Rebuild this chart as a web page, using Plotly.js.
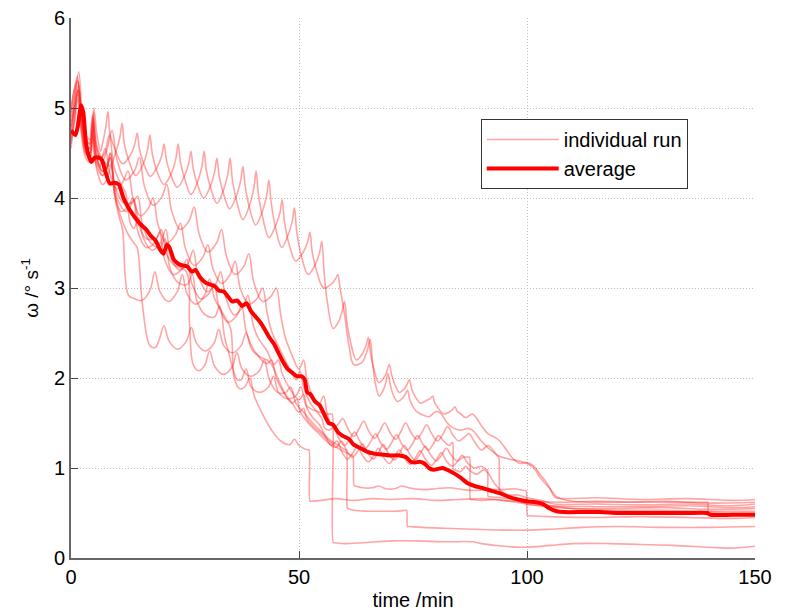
<!DOCTYPE html>
<html>
<head>
<meta charset="utf-8">
<script src="https://cdn.plot.ly/plotly-3.0.1.min.js"></script>
<style>html,body{margin:0;padding:0;background:#fff;}#chart{width:786px;height:612px;}</style>
</head>
<body>
<div id="chart"></div>
<script>
// ---- data: [time (min), omega (deg/s)] ----
const run1 = [[0,4.9],[0.8,5.15],[1.5,5.3],[2.3,4.95],[3.2,4.7],[4.4,4.65],[5,5.0],[5.7,4.7],[6.5,4.52],
[6.9,4.6],[7.6,4.78],[8.1,4.96],[8.6,4.7],[9.6,4.55],[11.3,4.38],
[13.05,4.48],[14,4.6],[14.5,4.72],[15,4.55],[15.95,4.38],[17.4,4.24],
[18.95,4.35],[19.9,4.47],[20.4,4.6],[20.9,4.43],[21.85,4.26],[23.3,4.12],
[24.85,4.24],[25.8,4.38],[26.3,4.52],[26.8,4.33],[27.75,4.15],[29.1,4.0],
[30.55,4.13],[31.5,4.29],[32,4.44],[32.5,4.24],[33.45,4.05],[34.8,3.88],
[36.25,4.02],[37.2,4.19],[37.7,4.35],[38.2,4.13],[39.15,3.89],[40.5,3.7],
[41.95,3.85],[42.9,4.03],[43.4,4.2],[43.9,3.95],[44.85,3.67],[46.2,3.45],
[47.55,3.58],[48.5,3.74],[49,3.89],[49.5,3.63],[50.45,3.37],[52,3.15],
[53.55,3.26],[54.5,3.39],[55,3.52],[55.5,3.18],[56.2,2.85],[57.5,2.55],
[58.8,2.64],[59.5,2.75],[60,2.85],[60.5,2.62],[61.3,2.4],[62.6,2.2],
[64,2.28],[64.7,2.36],[65.2,2.45],[65.7,2.27],[66.4,2.1],[67.5,1.95],
[68.7,2.01],[69.3,2.08],[69.8,2.15],[70.3,2.04],[71,1.93],[72,1.84],
[73.1,1.88],[73.7,1.93],[74.2,1.98],[74.7,1.88],[75.4,1.8],[76.7,1.72],
[77.9,1.75],[78.8,1.77],[79.3,1.8],[79.8,1.72],[80.6,1.66],[81.7,1.6],
[82.9,1.62],[83.7,1.65],[84.2,1.68],[84.7,1.63],[85.5,1.6],[86.5,1.56],
[88,1.6],[89,1.55],[90,1.47],[91.5,1.38],[93,1.34],[94,1.3],[95.5,1.2],[97,1.1],[98.5,1.05],[100,1.06],[101.5,1.02],
[103,0.92],[104,0.86],[105,0.78],[106,0.68],[108,0.66],[115,0.67],[125,0.65],[135,0.66],[145,0.64],[150,0.65]];

const run2 = [[0,4.7],[0.8,5.1],[1.7,5.4],[2.5,4.9],[3.4,4.65],[4.2,4.6],[4.9,4.95],[5.6,4.6],[7,4.42],[8.6,4.36],
[9.75,4.5],[10.7,4.67],[11.2,4.83],[11.7,4.6],[12.65,4.42],[14.2,4.25],
[15.85,4.38],[16.8,4.54],[17.3,4.70],[17.8,4.5],[18.75,4.31],[20.4,4.15],
[22.05,4.28],[23,4.44],[23.5,4.6],[24,4.4],[24.95,4.21],[26.3,4.04],
[27.75,4.18],[28.7,4.35],[29.2,4.52],[29.7,4.3],[30.65,4.11],[32,3.94],
[33.45,4.09],[34.4,4.27],[34.9,4.44],[35.4,4.2],[36.35,3.96],[37.7,3.76],
[39.15,3.92],[40.1,4.11],[40.6,4.3],[41.1,4.04],[42.05,3.78],[43.4,3.56],
[44.85,3.69],[45.8,3.83],[46.3,3.98],[46.8,3.74],[47.75,3.5],[49.3,3.3],
[50.95,3.4],[51.9,3.51],[52.4,3.62],[52.9,3.4],[53.85,3.19],[55.4,3.0],
[57.05,3.04],[58,3.1],[58.5,3.15],[59,3.0],[60,2.7],[61,2.35],[62,2.15],[63.8,2.17],
[64.6,2.25],[65.1,2.33],[65.6,2.43],[66.1,2.2],[66.7,1.95],[67.6,1.8],
[68.6,1.88],[69.1,1.96],[69.5,2.05],[70,1.93],[70.6,1.82],[71.6,1.74],
[72.8,1.78],[73.3,1.82],[73.8,1.86],[74.3,1.76],[75,1.68],[76,1.62],
[78.5,1.57],[79.3,1.6],[80.3,1.63],[81.2,1.6],[82.5,1.5],[84,1.44],[85.5,1.42],[87,1.44],[88,1.42],[90,1.3],[92,1.2],
[94,1.13],[96,1.1],[98,1.08],[100,1.05],[101.5,1.0],[102.8,0.9],[104.5,0.8],[105.5,0.74],[106.5,0.68],[110,0.63],
[120,0.62],[130,0.63],[140,0.61],[150,0.62]];

const run3 = [[0,4.85],[0.8,5.05],[1.6,5.25],[2.4,4.85],[3.3,4.6],[4.2,4.55],[4.9,4.9],[5.6,4.55],[6.8,4.4],
[7.9,4.54],[9,4.75],[10.1,4.42],[12,4.2],[13.9,4.3],[15,4.45],[16.1,4.13],[18,3.92],[19.9,4.01],[21,4.15],[22.1,3.85],
[24,3.65],[25.9,3.75],[27,3.9],[28.1,3.6],[30,3.4],[31.9,3.5],[33,3.65],[34.1,3.35],[36,3.15],[37.9,3.24],[39,3.38],
[40.1,3.06],[42,2.85],[43.9,2.91],[45,3.0],[46,2.7],[47,2.45],[48.5,2.25],[50,2.1],[51,2.2],[51.7,2.0],[53,1.8],
[54.5,1.72],[55.4,1.8],[56.2,1.6],[57.5,1.45],
[58.5,1.48],[59.6,1.55],[60.7,1.44],[62,1.35],[63.1,1.43],[64.2,1.52],[65.3,1.41],[66.6,1.33],[67.7,1.41],[68.8,1.5],
[69.9,1.4],[71.2,1.32],[72.3,1.4],[73.4,1.5],[74.5,1.4],[75.8,1.32],[76.9,1.39],[78,1.48],[79.1,1.38],[80.4,1.3],
[81.5,1.37],[82.6,1.46],[83.7,1.37],[85,1.3],[86.2,1.34],[87.3,1.38],[88.4,1.3],[90,1.2],[91.5,1.25],[92.5,1.2],
[93.6,1.13],[93.8,1.12],[94.1,0.72],[94.3,0.72],[96,0.7],[98,0.7],[100,0.67],[103,0.64],[106,0.6],[115,0.6],
[125,0.59],[135,0.6],[145,0.58],[150,0.6]];

const run4 = [[0,4.6],[0.8,4.95],[1.5,5.2],[2.3,4.8],[3.2,4.5],[4.1,4.45],[4.8,4.8],[5.5,4.4],[6.4,4.35],
[6.6,4.4],[7.5,4.55],[8.5,4.28],[10,4.1],[11.4,4.18],[12.5,4.3],[13.6,4.0],[15.2,3.8],[16.9,3.88],[18,4.0],[19.1,3.7],
[21,3.5],[22.9,3.59],[24,3.72],[25.1,3.44],[27,3.25],[28.9,3.34],[30,3.48],[31.1,3.22],[33,3.05],[34.9,3.15],[36,3.3],
[37.1,3.0],[39,2.82],[40.9,2.89],[42,3.0],[43.1,2.7],[44,2.52],[46,2.3],[48,2.1],[49.5,1.98],[50.2,2.08],[51,1.9],
[52.5,1.72],[54,1.62],[55,1.55],[55.6,1.45],
[56.5,1.42],[57.6,1.45],[58.7,1.33],[60,1.25],[61.1,1.32],[62.2,1.4],[63.3,1.3],[64.6,1.22],[65.7,1.29],[66.8,1.38],
[67.9,1.28],[69.2,1.21],[70.3,1.28],[71.4,1.37],[72.5,1.27],[73.8,1.2],[74.9,1.27],[76,1.36],[77.1,1.27],[78.4,1.2],
[79.5,1.27],[80.6,1.36],[81.7,1.3],[83,1.25],[83.5,1.28],[83.7,1.28],[83.9,0.98],[84.1,0.98],[85.5,0.96],[86.5,1.02],
[87.5,0.97],[89,0.93],[90.5,0.98],[91.5,0.94],[93,0.82],[95,0.72],[97,0.66],[100,0.6],[105,0.58],[115,0.57],
[125,0.57],[135,0.58],[145,0.56],[150,0.57]];

const run5 = [[0,5.0],[0.7,5.2],[1.4,5.35],[2.2,5.0],[3.1,4.7],[4,4.6],[4.7,4.92],[5.4,4.6],[6.5,4.45],
[7.4,4.5],[8.4,4.7],[9.4,4.35],[10.5,4.2],[12,4.05],[13,3.72],[13.8,3.66],[14.8,3.78],[15.9,3.55],[17.8,3.42],
[19.7,3.51],[20.8,3.65],[21.9,3.34],[23.8,3.2],[25.7,3.28],[26.8,3.42],[27.9,3.14],[29.8,2.96],[31.7,3.04],[32.8,3.18],
[33.9,2.9],[35.8,2.7],[37.7,2.79],[38.8,2.92],[39.9,2.6],[41,2.45],[43,2.3],[44.5,2.15],[45.5,2.2],[46.3,2.05],
[48,1.88],[50,1.76],[51,1.82],[51.8,1.66],[53,1.56],[54.5,1.48],[55.5,1.38],[57,1.25],
[58.2,1.23],[59.3,1.3],[60.4,1.2],[61.7,1.12],[62.8,1.18],[63.9,1.27],[65,1.17],[66.3,1.1],[67.4,1.17],[68.5,1.26],
[69.6,1.16],[70.9,1.09],[72,1.16],[73.1,1.25],[74.2,1.16],[75.5,1.09],[76.6,1.16],[77.7,1.24],[78.8,1.15],[80.1,1.08],
[81.2,1.14],[82.3,1.22],[83.4,1.14],[84.7,1.08],[86,1.12],[87.2,1.12],[87.4,1.12],[87.6,0.65],[87.8,0.65],[90,0.64],
[93,0.65],[96,0.63],[100,0.6],[104,0.57],[110,0.55],[120,0.55],[130,0.56],[140,0.54],[150,0.55]];

const run6 = [[0,4.8],[0.8,5.0],[1.6,5.2],[2.4,4.8],[3.3,4.55],[4.2,4.5],[4.9,4.82],[5.6,4.45],[7,4.25],[7.7,4.3],
[8.6,4.45],[9.5,4.05],[10.5,3.8],[11.3,3.65],[12.6,2.92],[14,2.88],[15.5,2.86],[17.3,2.97],[18.4,3.18],[19.5,2.96],
[21.4,2.85],[23.3,2.96],[24.4,3.15],[25.5,2.93],[27.4,2.82],[29.3,2.92],[30.4,3.1],[31.5,2.88],[32.8,2.76],[33.5,2.7],
[35,2.55],[35.8,2.0],[37,1.88],[38.1,1.9],[39.2,2.0],[40.2,1.8],[42,1.6],[44,1.42],[46,1.3],[48,1.26],[49,1.32],
[50,1.25],[52,1.2],[52.2,1.2],[52.4,0.63],[52.6,0.63],[55,0.64],[58,0.66],[62,0.64],[66,0.66],[70,0.65],[75,0.66],
[80,0.64],[85,0.65],[90,0.66],[95,0.64],[100,0.62],[105,0.58],[110,0.55],[120,0.53],[130,0.53],[140,0.52],[150,0.52]];

const run7 = [[0,4.65],[0.8,4.85],[1.5,5.1],[2.3,4.7],[3.2,4.45],[4.1,4.4],[4.8,4.7],[5.5,4.35],[6.9,4.15],[7.8,4.2],
[8.8,4.35],[9.8,3.98],[11,3.78],[12.5,3.6],[13.8,3.5],[14.5,3.45],[15.5,2.9],[16.5,2.5],[17.3,2.36],[18.5,2.34],
[19.3,2.42],[20.4,2.58],[21.5,2.41],[23.4,2.32],[25.3,2.41],[26.4,2.56],[27.5,2.39],[29.4,2.3],[31.3,2.38],[32.4,2.54],
[33.5,2.36],[35.4,2.28],[37.3,2.36],[38.4,2.5],[39.5,2.33],[40.5,2.27],[42,2.22],[43,2.2],[44,2.15],[45.5,1.98],
[47,1.82],[48.5,1.72],[50,1.62],[51,1.66],[51.7,1.55],[53,1.47],[55,1.38],[57,1.28],[58.5,1.22],[60,1.18],[61.6,1.14],
[61.8,1.14],[62.1,0.8],[62.3,0.8],[64,0.78],[66,0.78],[67.5,0.8],[69,0.77],[71,0.77],[72.5,0.8],[74,0.78],[77,0.76],
[80,0.77],[83,0.78],[86,0.76],[89,0.75],[92,0.76],[95,0.76],[97,0.77],[99.6,0.75],[99.8,0.75],[100.1,0.47],[100.3,0.47],
[105,0.46],[115,0.45],[125,0.46],[135,0.45],[145,0.44],[150,0.45]];

const run8 = [[0,4.95],[0.7,5.2],[1.4,5.3],[2.2,4.95],[3.1,4.65],[4,4.55],[4.7,4.85],[5.4,4.5],[6.8,4.3],[7.6,4.3],
[8.6,4.45],[9.6,4.1],[10.5,3.95],[12,3.85],[12.7,3.88],[13.8,3.98],[14.9,3.7],[16.5,3.55],[18.7,3.55],[19.8,3.65],
[20.9,3.38],[22.5,3.26],[25.3,3.18],[26,2.6],[26.8,2.15],[28,2.08],[29.3,2.14],[30.4,2.3],[31.5,2.13],[33.4,2.04],
[35.3,2.12],[36.4,2.28],[37.5,2.1],[39.4,2.02],[41.3,2.08],[42.4,2.2],[43.5,1.98],[45.3,1.84],[47.1,1.84],[48.2,1.9],
[49.3,1.72],[51,1.62],[53,1.5],[55,1.4],[57,1.3],[59,1.24],[60.2,1.2],[60.4,1.2],[60.6,0.56],[60.8,0.55],[62,0.53],
[65,0.52],[68,0.52],[71,0.52],[73.4,0.53],[73.6,0.53],[73.8,0.35],[74,0.35],[77,0.34],[82,0.33],[88,0.32],[95,0.31],
[100,0.31],[105,0.32],[112,0.34],[120,0.35],[130,0.34],[140,0.34],[150,0.35]];

const run9 = [[0,4.75],[0.8,5.0],[1.5,5.2],[2.3,4.85],[3.2,4.55],[4.1,4.5],[4.8,4.88],[5.5,4.5],[6.9,4.3],[7.7,4.32],
[8.7,4.5],[9.7,4.12],[11.5,3.95],[13.5,3.95],[14.6,4.02],[15.7,3.7],[17.5,3.5],[19.5,3.45],[20.6,3.55],[21.7,3.22],
[23.5,3.06],[25.5,3.04],[26.6,3.15],[27.7,2.84],[29.5,2.7],[31.5,2.68],[32.6,2.8],[33.7,2.45],[34.5,2.3],[35.5,2.1],
[36.5,1.98],[37.3,1.98],[38.4,2.1],[39.5,1.9],[41.4,1.84],[43.3,1.9],[44.4,2.02],[45.5,1.84],[47.4,1.77],[49.3,1.8],
[50.4,1.9],[51.5,1.7],[52.5,1.66],[54.5,1.62],[56,1.6],[57.1,1.6],[57.3,1.6],[57.5,0.17],[57.7,0.17],[60,0.16],
[64,0.17],[70,0.19],[76,0.19],[82,0.18],[88,0.18],[90,0.16],[95,0.13],[100,0.12],[105,0.14],[110,0.16],[118,0.16],
[125,0.15],[132,0.14],[140,0.12],[145,0.11],[150,0.13]];

const run10 = [[0,4.55],[0.8,4.9],[1.5,5.15],[2.3,4.75],[3.2,4.5],[4,4.45],[4.7,4.75],[5.4,4.4],[6.8,4.25],
[7.6,4.3],[8.6,4.5],[9.6,4.05],[11,3.85],[12.5,3.9],[13.6,4.0],[14.7,3.62],[16.5,3.45],[18.3,3.5],[19.4,3.62],
[20.5,3.32],[22.4,3.15],[24.3,3.21],[25.4,3.32],[26.5,3.05],[28.4,2.88],[30.3,2.94],[31.4,3.05],[32.5,2.78],[34.4,2.62],
[36.3,2.69],[37.4,2.8],[38.5,2.5],[40.5,2.28],[43,2.16],[44,2.2],[45,2.0],[46.5,1.85],[48.5,1.72],[49.5,1.76],
[50.3,1.62],[52,1.5],[54,1.4],[56,1.3],
[57.2,1.25],[58.3,1.3],[59.4,1.18],[60.6,1.1],[61.7,1.16],[62.8,1.24],[63.9,1.14],[65.2,1.07],[66.3,1.13],[67.4,1.22],
[68.5,1.12],[69.8,1.05],[70.9,1.12],[72,1.2],[73.1,1.11],[74.4,1.04],[75.5,1.11],[76.6,1.19],[77.7,1.1],[79,1.03],
[80.1,1.09],[81.2,1.17],[82.3,1.08],[83.6,1.02],[84.7,1.07],[85.8,1.14],[86.9,1.06],[88.5,1.0],[90,1.02],[91.1,0.98],
[91.3,0.98],[91.5,0.68],[91.7,0.68],[94,0.67],[98,0.65],[102,0.63],[108,0.62],[115,0.63],[125,0.62],[135,0.62],
[139.4,0.62],[139.6,0.62],[139.8,0.51],[140,0.51],[145,0.5],[150,0.5]];

const average = [[0,4.75],[0.5,4.72],[1,4.7],[1.5,4.8],[2.2,5.03],[2.7,4.95],[3.3,4.6],[4,4.45],[4.5,4.4],[5.2,4.45],[6,4.45],
[6.8,4.42],[7.5,4.3],[8.5,4.16],[9.5,4.17],[10.5,4.15],[11.5,4.0],[12.5,3.9],[13.5,3.82],[15,3.72],[16.5,3.65],
[17.5,3.58],[18.5,3.53],[19.5,3.43],[20.3,3.38],[21,3.48],[21.6,3.45],[22.5,3.32],[23.5,3.27],[24.5,3.25],[25.5,3.24],
[26.5,3.18],[27.3,3.2],[28.3,3.12],[29.5,3.06],[30.5,3.04],[31.5,3.02],[32.5,2.97],[33.5,2.96],[34.5,2.9],[35.3,2.85],
[36.5,2.86],[37.5,2.8],[38.5,2.83],[39.5,2.74],[40.5,2.68],[41.5,2.62],[42.5,2.54],[43.5,2.45],[44.5,2.38],[45.5,2.28],
[46.5,2.18],[47.5,2.1],[48.5,2.06],[49.5,2.02],[50.5,2.02],[51.2,1.99],[51.8,1.84],[52.5,1.82],[53.5,1.74],[54.5,1.7],
[55.5,1.6],[56.5,1.5],[57.5,1.48],[58.5,1.4],[59.5,1.36],[61,1.32],[62,1.26],[63.5,1.22],[65,1.18],[66.5,1.16],[68,1.15],
[70,1.14],[72,1.14],[73.5,1.12],[74.5,1.07],[75.5,1.06],[76.5,1.07],[77.5,1.05],[78.5,1.0],[79.5,0.98],[80.5,0.99],
[81.5,1.0],[82.5,0.98],[84,0.94],[85.5,0.89],[87,0.83],[88.5,0.8],[90,0.78],[92,0.75],[94,0.72],[96,0.68],[98,0.65],
[100,0.63],[102,0.62],[103.5,0.6],[105,0.55],[106.5,0.52],[108,0.51],[112,0.51],[116,0.51],[120,0.5],[125,0.5],
[130,0.5],[135,0.5],[139.5,0.5],[140.2,0.48],[145,0.48],[150,0.48]];

const runs = [run1, run2, run3, run4, run5, run6, run7, run8, run9, run10];
const legendLabels = ["individual run", "average"];
const xTicks = [0, 50, 100, 150];
const yTicks = [0, 1, 2, 3, 4, 5, 6];

const FONT = "Liberation Sans, Arial, Helvetica, sans-serif";
const traces = runs.map((r, i) => ({
  x: r.map(p => p[0]), y: r.map(p => p[1]),
  type: "scatter", mode: "lines",
  name: legendLabels[0], legendgroup: "runs", showlegend: i === 0,
  line: {color: "rgba(255,40,40,0.42)", width: 1.6, shape: "spline", smoothing: 1},
  hoverinfo: "skip"
}));
traces.push({
  x: average.map(p => p[0]), y: average.map(p => p[1]),
  type: "scatter", mode: "lines", name: legendLabels[1], legendgroup: "avg",
  line: {color: "#ff0000", width: 4, shape: "spline", smoothing: 0.5}
});

const layout = {
  width: 786, height: 612,
  margin: {l: 71, r: 31, t: 18, b: 54},
  paper_bgcolor: "#fff", plot_bgcolor: "#fff",
  font: {family: FONT, size: 20, color: "#000"},
  showlegend: true,
  legend: {
    x: 0.599, y: 0.813, xanchor: "left", yanchor: "top",
    bgcolor: "#fff", bordercolor: "#333", borderwidth: 1,
    font: {family: FONT, size: 20, color: "#000"},
    itemwidth: 72, tracegroupgap: 0
  },
  xaxis: {
    range: [0, 150], tickvals: xTicks, ticktext: xTicks.map(String),
    showline: true, linecolor: "#666", linewidth: 2, mirror: false,
    ticks: "inside", ticklen: 7, tickcolor: "#444", tickwidth: 1,
    showgrid: true, gridcolor: "#bdbdbd", griddash: "1px,2px", gridwidth: 1,
    zeroline: false,
    tickfont: {family: FONT, size: 20},
    title: {text: "time /min", font: {family: FONT, size: 20}, standoff: 6}
  },
  yaxis: {
    range: [0, 6], tickvals: yTicks, ticktext: yTicks.map(String),
    showline: true, linecolor: "#666", linewidth: 2, mirror: false,
    ticks: "inside", ticklen: 7, tickcolor: "#444", tickwidth: 1,
    showgrid: true, gridcolor: "#bdbdbd", griddash: "1px,2px", gridwidth: 1,
    zeroline: false,
    tickfont: {family: FONT, size: 20},
    title: {text: "ω /° s<sup>-1</sup>", font: {family: FONT, size: 19}, standoff: 10}
  }
};

Plotly.newPlot("chart", traces, layout, {displayModeBar: false, staticPlot: true});
</script>
</body>
</html>
